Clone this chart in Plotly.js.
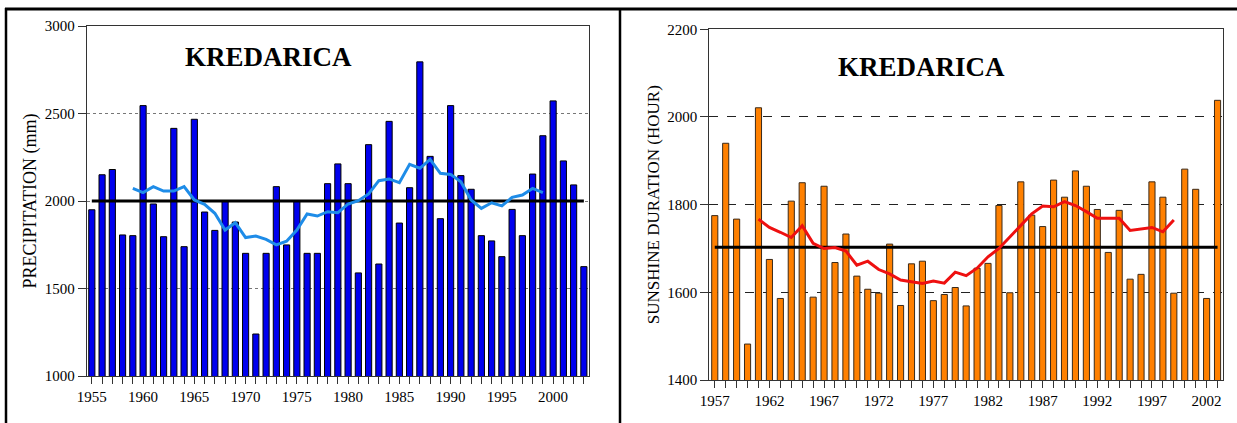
<!DOCTYPE html>
<html>
<head>
<meta charset="utf-8">
<script src="https://cdn.plot.ly/plotly-3.0.1.min.js"></script>
<style>
html,body{margin:0;padding:0;background:#fff;}
#chart{width:1237px;height:423px;}
#chart .xtick text, #chart .ytick text, #chart .x2tick text, #chart .y2tick text{font-family:"Liberation Serif","DejaVu Serif",serif !important;}
</style>
</head>
<body>
<div id="chart"></div>
<script>
// ---- Precipitation, Kredarica ----
const precipYears = [1955,1956,1957,1958,1959,1960,1961,1962,1963,1964,
  1965,1966,1967,1968,1969,1970,1971,1972,1973,1974,
  1975,1976,1977,1978,1979,1980,1981,1982,1983,1984,
  1985,1986,1987,1988,1989,1990,1991,1992,1993,1994,
  1995,1996,1997,1998,1999,2000,2001,2002,2003];
const precipValues = [1950,2150,2180,1806,1802,2545,1983,1796,2415,1739,
  2467,1937,1832,1998,1880,1701,1240,1701,2082,1749,
  1998,1701,1701,2099,2212,2099,1589,2322,1640,2455,
  1874,2076,2795,2255,1899,2545,2145,2067,1802,1772,
  1682,1952,1802,2154,2373,2572,2229,2092,1625];
const precipMAYears = [1959,1960,1961,1962,1963,1964,1965,1966,1967,1968,
  1969,1970,1971,1972,1973,1974,1975,1976,1977,1978,
  1979,1980,1981,1982,1983,1984,1985,1986,1987,1988,
  1989,1990,1991,1992,1993,1994,1995,1996,1997,1998,1999];
const precipMA = [2072,2048,2082,2057,2057,2082,2006,1981,1930,1834,
  1876,1791,1800,1781,1749,1770,1834,1926,1914,1939,
  1933,1983,2002,2040,2116,2126,2105,2210,2187,2238,
  2158,2152,2110,2006,1958,1990,1972,2021,2034,2072,2048];
const precipMeanYears = [1955,2003];
const precipMean = [2000,2000];
const precipXTicks = [1955,1960,1965,1970,1975,1980,1985,1990,1995,2000];
const precipYTicks = [1000,1500,2000,2500,3000];

// ---- Sunshine duration, Kredarica ----
const sunYears = [1957,1958,1959,1960,1961,1962,1963,1964,1965,1966,
  1967,1968,1969,1970,1971,1972,1973,1974,1975,1976,
  1977,1978,1979,1980,1981,1982,1983,1984,1985,1986,
  1987,1988,1989,1990,1991,1992,1993,1994,1995,1996,
  1997,1998,1999,2000,2001,2002,2003];
const sunValues = [1775,1940,1767,1482,2021,1675,1586,1808,1850,1589,
  1842,1668,1733,1637,1607,1598,1710,1570,1665,1671,
  1581,1595,1611,1569,1655,1666,1798,1599,1852,1776,
  1750,1856,1817,1877,1842,1789,1691,1787,1630,1641,
  1852,1817,1598,1881,1835,1586,2038];
const sunMAYears = [1961,1962,1963,1964,1965,1966,1967,1968,1969,1970,
  1971,1972,1973,1974,1975,1976,1977,1978,1979,1980,
  1981,1982,1983,1984,1985,1986,1987,1988,1989,1990,
  1991,1992,1993,1994,1995,1996,1997,1998,1999];
const sunMA = [1767,1748,1737,1725,1752,1712,1700,1702,1694,1662,
  1671,1652,1642,1628,1624,1620,1626,1621,1646,1638,
  1655,1681,1700,1727,1754,1779,1797,1795,1807,1798,
  1784,1769,1769,1769,1741,1744,1748,1738,1765];
const sunMeanYears = [1957,2003];
const sunMean = [1703,1703];
const sunXTicks = [1957,1962,1967,1972,1977,1982,1987,1992,1997,2002];
const sunYTicks = [1400,1600,1800,2000,2200];

const chartTitle = 'KREDARICA';
const precipAxisTitle = 'PRECIPITATION (mm)';
const sunAxisTitle = 'SUNSHINE DURATION (HOUR)';

const W = 1237, H = 423;
const px = v => v / W;
const py = v => (H - v) / H;
const FONT = '"Liberation Serif", "DejaVu Serif", serif';

const data = [
  {type:'bar', x:precipYears, y:precipValues, xaxis:'x', yaxis:'y', width:0.6,
   marker:{color:'#0000ee', line:{color:'#000', width:1}}, hoverinfo:'x+y'},
  {type:'scatter', mode:'lines', x:precipMeanYears, y:precipMean, xaxis:'x', yaxis:'y',
   line:{color:'#000', width:3}},
  {type:'scatter', mode:'lines', x:precipMAYears, y:precipMA, xaxis:'x', yaxis:'y',
   line:{color:'#1e8ce8', width:3}},
  {type:'bar', x:sunYears, y:sunValues, xaxis:'x2', yaxis:'y2', width:0.56,
   marker:{color:'#ff8000', line:{color:'#3a2a1a', width:1}}, hoverinfo:'x+y'},
  {type:'scatter', mode:'lines', x:sunMeanYears, y:sunMean, xaxis:'x2', yaxis:'y2',
   line:{color:'#000', width:3}},
  {type:'scatter', mode:'lines', x:sunMAYears, y:sunMA, xaxis:'x2', yaxis:'y2',
   line:{color:'#ee1010', width:3}}
];

function xAxisBase() {
  return {
    ticks:'outside', ticklen:7, tickcolor:'#333', tickwidth:1,
    showline:true, linecolor:'#333', linewidth:1, mirror:true,
    showgrid:false, zeroline:false, automargin:false, fixedrange:true,
    tickfont:{family:FONT, size:15, color:'#000'}
  };
}
function yAxisBase() {
  return {
    ticks:'outside', ticklen:8, tickcolor:'#333', tickwidth:1,
    showline:true, linecolor:'#333', linewidth:1, mirror:true,
    showgrid:true, zeroline:false, automargin:false, fixedrange:true,
    tickfont:{family:FONT, size:15, color:'#000'}
  };
}

const layout = {
  width:W, height:H,
  margin:{l:0, r:0, t:0, b:0},
  paper_bgcolor:'#fff', plot_bgcolor:'#fff',
  showlegend:false,
  font:{family:FONT, size:15, color:'#000'},
  xaxis: Object.assign(xAxisBase(), {
    domain:[px(86.7), px(589)], range:[1954.5, 2003.5], anchor:'y',
    tickmode:'array', tickvals:precipXTicks,
    minor:{tickmode:'linear', tick0:1955, dtick:1, ticks:'outside', ticklen:7, tickcolor:'#333', showgrid:false}
  }),
  yaxis: Object.assign(yAxisBase(), {
    domain:[py(376), py(26)], range:[1000, 3000], anchor:'x',
    tickmode:'array', tickvals:precipYTicks,
    gridcolor:'#777', griddash:'dot', gridwidth:1,
    title:{text:precipAxisTitle, font:{family:FONT, size:18, color:'#000'}, standoff:3}
  }),
  xaxis2: Object.assign(xAxisBase(), {
    domain:[px(709.3), px(1223)], range:[1956.5, 2003.5], anchor:'y2',
    tickmode:'array', tickvals:sunXTicks,
    minor:{tickmode:'linear', tick0:1957, dtick:1, ticks:'outside', ticklen:7, tickcolor:'#333', showgrid:false}
  }),
  yaxis2: Object.assign(yAxisBase(), {
    domain:[py(380), py(29.3)], range:[1400, 2200], anchor:'x2',
    tickmode:'array', tickvals:sunYTicks,
    gridcolor:'#222', griddash:'dash', gridwidth:1,
    title:{text:sunAxisTitle, font:{family:FONT, size:17, color:'#000'}, standoff:3}
  }),
  annotations:[
    {text:'<b>' + chartTitle + '</b>', xref:'paper', yref:'paper', x:px(268), y:py(57), xanchor:'center', yanchor:'middle',
     showarrow:false, font:{family:FONT, size:27, color:'#000'}},
    {text:'<b>' + chartTitle + '</b>', xref:'paper', yref:'paper', x:px(921.5), y:py(67), xanchor:'center', yanchor:'middle',
     showarrow:false, font:{family:FONT, size:27, color:'#000'}}
  ],
  shapes:[
    {type:'line', xref:'paper', yref:'paper', x0:px(5), x1:1, y0:py(9), y1:py(9), line:{color:'#000', width:3}},
    {type:'line', xref:'paper', yref:'paper', x0:px(6), x1:px(6), y0:0, y1:py(8), line:{color:'#000', width:2.5}},
    {type:'line', xref:'paper', yref:'paper', x0:px(620), x1:px(620), y0:0, y1:py(8), line:{color:'#000', width:2.5}}
  ]
};

Plotly.newPlot('chart', data, layout, {displayModeBar:false, staticPlot:true});
</script>
</body>
</html>
